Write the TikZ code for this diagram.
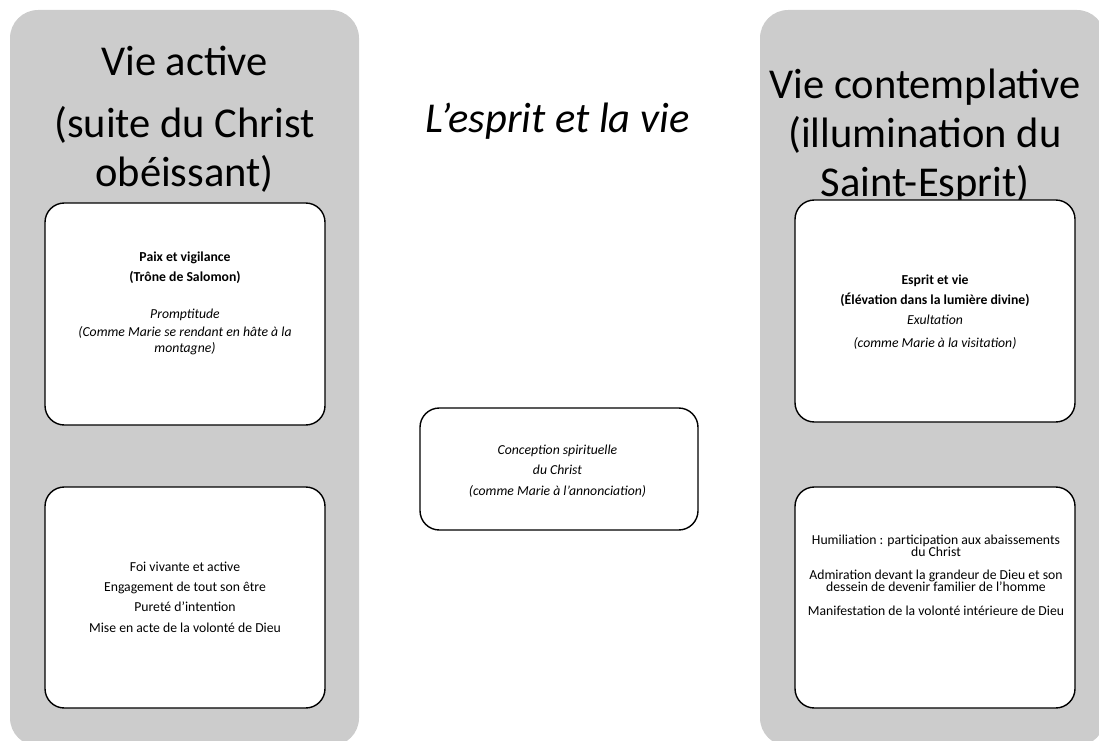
\documentclass[tikz,border=0pt]{standalone}
\usepackage{fontspec}
\setmainfont{Carlito}
\usetikzlibrary{positioning}
\definecolor{panelgray}{RGB}{204,204,204}

\tikzset{
  panel/.style={fill=panelgray,rounded corners=16},
  card/.style={draw=black,fill=white,line width=0.8pt,rounded corners=11},
  bigtitle/.style={align=center,inner sep=0pt,font=\fontsize{24.2}{27.9}\selectfont},
  cardtext/.style={align=center,inner sep=0pt,font=\fontsize{7.8}{11.4}\selectfont}
}

\begin{document}
\begin{tikzpicture}
\clip (0,0) rectangle (21.98,14.8);
% the two columns
\fill[panel] (0.2,-0.12) rectangle (7.18,14.6);
\fill[panel] (15.2,-0.12) rectangle (22.1,14.6);
\node[bigtitle,anchor=base] (active) at (3.69,11.06) {Vie active\\[0.26cm](suite du Christ\\obéissant)};
\node[bigtitle,anchor=base] (contemplative) at (18.5,10.86) {Vie contemplative\\(illumination du\\Saint-Esprit)};
\node[bigtitle,anchor=base] (esprit) at (11.15,12.14) {\itshape L’esprit et la vie};
% cards
\filldraw[card] (0.9,10.74) rectangle (6.5,6.3);
\filldraw[card] (0.9,5.06) rectangle (6.5,0.64);
\filldraw[card] (15.9,10.8) rectangle (21.5,6.36);
\filldraw[card] (15.9,5.06) rectangle (21.5,0.64);
\filldraw[card] (8.4,6.64) rectangle (13.96,4.2);
\node[cardtext,anchor=base] (paix) at (3.7,7.76) {\textbf{Paix et vigilance}\\\textbf{(Trône de Salomon)}\\[0.34cm]\textit{Promptitude}\\[-0.04cm]\textit{(Comme Marie se rendant en hâte à la}\\[-0.1cm]\textit{montagne)}};
\node[cardtext,anchor=base] (foi) at (3.7,2.16) {Foi vivante et active\\Engagement de tout son être\\Pureté d’intention\\Mise en acte de la volonté de Dieu};
\node[cardtext,anchor=base] (vie) at (18.7,7.86) {\textbf{Esprit et vie}\\\textbf{(Élévation dans la lumière divine)}\\\textit{Exultation}\\[0.04cm]\textit{(comme Marie à la visitation)}};
\node[cardtext,anchor=base] (humiliation) at (18.72,2.5) {Humiliation : participation aux abaissements\\[-0.16cm]du Christ\\[0.06cm]Admiration devant la grandeur de Dieu et son\\[-0.16cm]dessein de devenir familier de l’homme\\[0.06cm]Manifestation de la volonté intérieure de Dieu};
\node[cardtext,anchor=base] (conception) at (11.15,4.9) {\textit{Conception spirituelle}\\\textit{du Christ}\\\textit{(comme Marie à l’annonciation)}};
\end{tikzpicture}
\end{document}
